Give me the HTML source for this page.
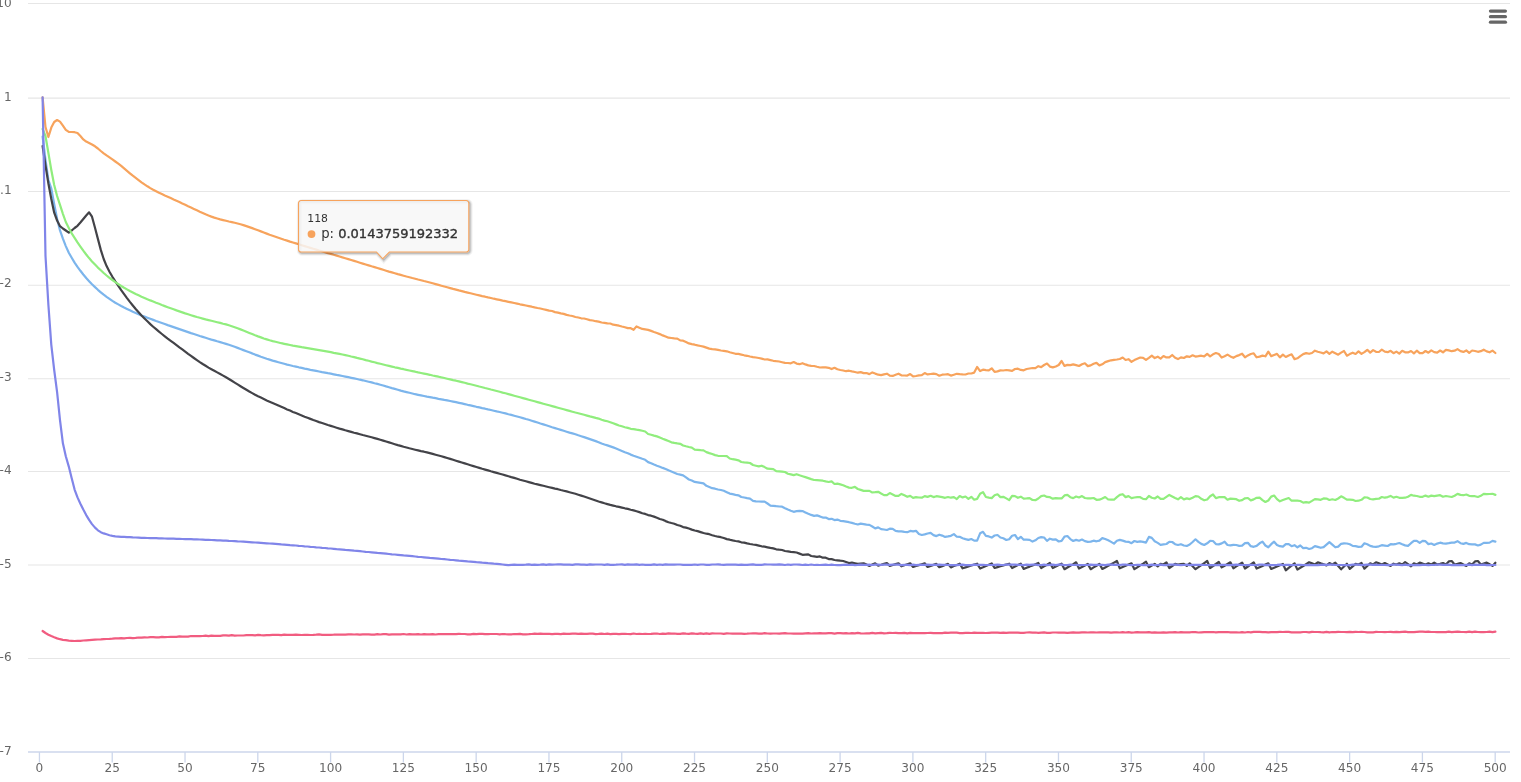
<!DOCTYPE html>
<html lang="en"><head><meta charset="utf-8"><title>Chart</title>
<style>
html,body{margin:0;padding:0;background:#fff;overflow:hidden}
body{width:1521px;height:782px;font-family:"DejaVu Sans", "Liberation Sans", sans-serif}
svg{display:block;position:absolute;left:0;top:0}
.g line{stroke:#e6e6e6;stroke-width:1.1}
.ax line{stroke:#ccd6eb;stroke-width:1.3}
.yl text,.xl text{font-family:"DejaVu Sans", "Liberation Sans", sans-serif;font-size:12.1px;fill:#666}
.yl text{text-anchor:end}.xl text{text-anchor:middle}
.s path{fill:none;stroke-width:2.2;stroke-linejoin:round;stroke-linecap:round}
.th{font-family:"DejaVu Sans", "Liberation Sans", sans-serif;font-size:10.8px;fill:#333}
.tb{font-family:"DejaVu Sans", "Liberation Sans", sans-serif;font-size:13.2px;fill:#333}
.tv{font-size:13px;stroke:#333;stroke-width:0.38px;stroke-linejoin:round}
</style></head><body>
<svg width="1521" height="782" viewBox="0 0 1521 782">
<rect width="1521" height="782" fill="#fff"/>
<g class="g">
<line x1="28.0" y1="3.47" x2="1510.0" y2="3.47"/>
<line x1="28.0" y1="98.1" x2="1510.0" y2="98.1"/>
<line x1="28.0" y1="191.5" x2="1510.0" y2="191.5"/>
<line x1="28.0" y1="285.2" x2="1510.0" y2="285.2"/>
<line x1="28.0" y1="378.7" x2="1510.0" y2="378.7"/>
<line x1="28.0" y1="471.5" x2="1510.0" y2="471.5"/>
<line x1="28.0" y1="565.0" x2="1510.0" y2="565.0"/>
<line x1="28.0" y1="658.5" x2="1510.0" y2="658.5"/>
</g>
<g class="ax">
<line x1="28.0" y1="752.0" x2="1510.0" y2="752.0"/>
<line x1="39.44" y1="752.0" x2="39.44" y2="762.5"/>
<line x1="112.23" y1="752.0" x2="112.23" y2="762.5"/>
<line x1="185.02" y1="752.0" x2="185.02" y2="762.5"/>
<line x1="257.80" y1="752.0" x2="257.80" y2="762.5"/>
<line x1="330.59" y1="752.0" x2="330.59" y2="762.5"/>
<line x1="403.38" y1="752.0" x2="403.38" y2="762.5"/>
<line x1="476.17" y1="752.0" x2="476.17" y2="762.5"/>
<line x1="548.95" y1="752.0" x2="548.95" y2="762.5"/>
<line x1="621.74" y1="752.0" x2="621.74" y2="762.5"/>
<line x1="694.53" y1="752.0" x2="694.53" y2="762.5"/>
<line x1="767.32" y1="752.0" x2="767.32" y2="762.5"/>
<line x1="840.10" y1="752.0" x2="840.10" y2="762.5"/>
<line x1="912.89" y1="752.0" x2="912.89" y2="762.5"/>
<line x1="985.68" y1="752.0" x2="985.68" y2="762.5"/>
<line x1="1058.47" y1="752.0" x2="1058.47" y2="762.5"/>
<line x1="1131.25" y1="752.0" x2="1131.25" y2="762.5"/>
<line x1="1204.04" y1="752.0" x2="1204.04" y2="762.5"/>
<line x1="1276.83" y1="752.0" x2="1276.83" y2="762.5"/>
<line x1="1349.62" y1="752.0" x2="1349.62" y2="762.5"/>
<line x1="1422.40" y1="752.0" x2="1422.40" y2="762.5"/>
<line x1="1495.19" y1="752.0" x2="1495.19" y2="762.5"/>
</g>
<g class="yl">
<text x="11.6" y="7">10</text>
<text x="11.6" y="101">1</text>
<text x="11.6" y="194">0.1</text>
<text x="11.6" y="287">1e-2</text>
<text x="11.6" y="381">1e-3</text>
<text x="11.6" y="474">1e-4</text>
<text x="11.6" y="568">1e-5</text>
<text x="11.6" y="661">1e-6</text>
<text x="11.6" y="755">1e-7</text>
</g>
<g class="xl">
<text x="39.44" y="772">0</text>
<text x="112.23" y="772">25</text>
<text x="185.02" y="772">50</text>
<text x="257.80" y="772">75</text>
<text x="330.59" y="772">100</text>
<text x="403.38" y="772">125</text>
<text x="476.17" y="772">150</text>
<text x="548.95" y="772">175</text>
<text x="621.74" y="772">200</text>
<text x="694.53" y="772">225</text>
<text x="767.32" y="772">250</text>
<text x="840.10" y="772">275</text>
<text x="912.89" y="772">300</text>
<text x="985.68" y="772">325</text>
<text x="1058.47" y="772">350</text>
<text x="1131.25" y="772">375</text>
<text x="1204.04" y="772">400</text>
<text x="1276.83" y="772">425</text>
<text x="1349.62" y="772">450</text>
<text x="1422.40" y="772">475</text>
<text x="1495.19" y="772">500</text>
</g>
<g class="s">
<path stroke="#7cb5ec" d="M42.6 136.5L45.5 160.0L48.4 180.0L51.3 188.4L54.2 204.3L57.1 218.7L60.0 230.4L62.9 238.7L65.8 246.1L68.8 252.8L71.7 257.7L74.6 262.6L77.5 266.9L80.4 270.8L83.3 274.5L86.2 278.0L89.1 281.2L92.0 284.3L95.0 287.1L97.9 289.8L100.8 292.3L103.7 294.7L106.6 296.9L109.5 298.9L112.4 300.9L115.3 302.7L118.3 304.4L121.2 306.0L124.1 307.5L127.0 308.9L129.9 310.3L132.8 311.7L135.7 312.9L138.6 314.2L141.5 315.4L144.5 316.6L147.4 317.7L150.3 318.8L153.2 319.9L156.1 321.0L159.0 322.0L161.9 323.0L164.8 324.0L167.7 325.1L170.7 326.1L173.6 327.1L176.5 328.1L179.4 329.1L182.3 330.1L185.2 331.1L188.1 332.1L191.0 333.1L193.9 334.0L196.9 335.0L199.8 336.0L202.7 336.9L205.6 337.8L208.5 338.7L211.4 339.6L214.3 340.4L217.2 341.3L220.2 342.1L223.1 343.0L226.0 343.9L228.9 344.8L231.8 345.8L234.7 346.8L237.6 347.9L240.5 349.0L243.4 350.1L246.4 351.2L249.3 352.3L252.2 353.4L255.1 354.6L258.0 355.6L260.9 356.7L263.8 357.7L266.7 358.7L269.6 359.6L272.6 360.6L275.5 361.4L278.4 362.2L281.3 363.0L284.2 363.8L287.1 364.6L290.0 365.3L292.9 366.0L295.9 366.6L298.8 367.3L301.7 367.9L304.6 368.6L307.5 369.2L310.4 369.8L313.3 370.3L316.2 370.9L319.1 371.5L322.1 372.1L325.0 372.6L327.9 373.2L330.8 373.7L333.7 374.3L336.6 374.9L339.5 375.4L342.4 376.0L345.3 376.6L348.3 377.2L351.2 377.8L354.1 378.4L357.0 379.0L359.9 379.7L362.8 380.3L365.7 381.0L368.6 381.7L371.6 382.4L374.5 383.2L377.4 383.9L380.3 384.7L383.2 385.5L386.1 386.4L389.0 387.2L391.9 388.1L394.8 388.9L397.8 389.7L400.7 390.6L403.6 391.4L406.5 392.1L409.4 392.8L412.3 393.5L415.2 394.2L418.1 394.8L421.0 395.4L424.0 396.0L426.9 396.6L429.8 397.1L432.7 397.7L435.6 398.2L438.5 398.8L441.4 399.3L444.3 399.9L447.2 400.4L450.2 401.0L453.1 401.6L456.0 402.2L458.9 402.8L461.8 403.4L464.7 404.1L467.6 404.8L470.5 405.4L473.5 406.1L476.4 406.8L479.3 407.4L482.2 408.1L485.1 408.7L488.0 409.4L490.9 410.0L493.8 410.7L496.7 411.4L499.7 412.0L502.6 412.7L505.5 413.4L508.4 414.2L511.3 414.9L514.2 415.7L517.1 416.5L520.0 417.3L522.9 418.1L525.9 419.0L528.8 419.8L531.7 420.7L534.6 421.6L537.5 422.5L540.4 423.5L543.3 424.4L546.2 425.3L549.2 426.2L552.1 427.2L555.0 428.1L557.9 429.0L560.8 429.9L563.7 430.8L566.6 431.7L569.5 432.6L572.4 433.4L575.4 434.3L578.3 435.3L581.2 436.2L584.1 437.1L587.0 438.1L589.9 439.1L592.8 440.1L595.7 441.1L598.6 442.2L601.6 443.5L604.5 444.5L607.4 445.4L610.3 446.4L613.2 447.4L616.1 448.5L619.0 449.7L621.9 450.9L624.9 452.2L627.8 453.2L630.7 454.6L633.6 455.7L636.5 456.7L639.4 457.7L642.3 458.8L645.2 459.8L648.1 462.1L651.1 463.2L654.0 464.5L656.9 465.7L659.8 466.7L662.7 467.9L665.6 469.0L668.5 470.3L671.4 471.5L674.3 472.7L677.3 474.0L680.2 474.6L683.1 475.4L686.0 477.4L688.9 479.5L691.8 480.5L694.7 481.9L697.6 482.3L700.6 482.8L703.5 483.3L706.4 485.8L709.3 487.0L712.2 488.2L715.1 488.7L718.0 489.5L720.9 490.0L723.8 490.8L726.8 492.2L729.7 493.6L732.6 494.2L735.5 494.8L738.4 495.3L741.3 497.0L744.2 497.5L747.1 498.1L750.0 498.6L753.0 500.8L755.9 501.3L758.8 501.5L761.7 501.6L764.6 501.6L767.5 503.5L770.4 505.6L773.3 505.8L776.2 506.2L779.2 506.5L782.1 506.7L785.0 508.2L787.9 509.5L790.8 510.7L793.7 511.8L796.6 511.2L799.5 510.8L802.5 511.1L805.4 512.4L808.3 513.7L811.2 514.9L814.1 515.9L817.0 515.4L819.9 516.4L822.8 517.6L825.7 517.6L828.7 519.1L831.6 518.8L834.5 520.1L837.4 519.6L840.3 520.8L843.2 521.2L846.1 521.7L849.0 522.2L851.9 522.9L854.9 523.8L857.8 524.5L860.7 523.6L863.6 524.1L866.5 524.7L869.4 524.9L872.3 526.5L875.2 528.4L878.2 527.4L881.1 529.1L884.0 529.5L886.9 530.0L889.8 528.7L892.7 528.9L895.6 530.9L898.5 531.3L901.4 531.3L904.4 531.8L907.3 532.2L910.2 530.9L913.1 531.4L916.0 530.8L918.9 534.0L921.8 535.0L924.7 534.4L927.6 533.5L930.6 532.9L933.5 535.1L936.4 536.1L939.3 534.7L942.2 535.6L945.1 536.9L948.0 536.4L950.9 535.8L953.9 534.1L956.8 536.7L959.7 536.8L962.6 538.2L965.5 539.1L968.4 539.9L971.3 539.0L974.2 540.6L977.1 540.6L980.1 533.3L983.0 531.8L985.9 535.9L988.8 536.4L991.7 537.6L994.6 535.5L997.5 535.0L1000.4 537.5L1003.3 538.3L1006.3 540.0L1009.2 539.2L1012.1 535.7L1015.0 535.0L1017.9 539.1L1020.8 536.8L1023.7 539.7L1026.6 539.7L1029.6 539.9L1032.5 541.6L1035.4 540.3L1038.3 538.0L1041.2 537.1L1044.1 537.5L1047.0 540.9L1049.9 538.7L1052.8 539.6L1055.8 539.3L1058.7 541.5L1061.6 540.9L1064.5 536.6L1067.4 536.0L1070.3 539.1L1073.2 541.0L1076.1 539.9L1079.0 540.7L1082.0 539.5L1084.9 541.1L1087.8 541.9L1090.7 541.6L1093.6 540.7L1096.5 541.3L1099.4 540.6L1102.3 538.1L1105.2 539.0L1108.2 540.3L1111.1 541.9L1114.0 543.6L1116.9 540.8L1119.8 539.9L1122.7 540.6L1125.6 541.6L1128.5 541.8L1131.5 543.2L1134.4 541.0L1137.3 541.9L1140.2 541.4L1143.1 541.9L1146.0 542.6L1148.9 536.9L1151.8 537.9L1154.7 541.3L1157.7 542.9L1160.6 544.8L1163.5 544.4L1166.4 544.0L1169.3 541.9L1172.2 542.0L1175.1 544.2L1178.0 545.0L1180.9 544.2L1183.9 545.5L1186.8 545.9L1189.7 544.5L1192.6 542.0L1195.5 539.3L1198.4 541.9L1201.3 543.9L1204.2 545.0L1207.2 543.3L1210.1 540.9L1213.0 541.0L1215.9 544.1L1218.8 544.4L1221.7 543.4L1224.6 541.7L1227.5 545.0L1230.4 545.4L1233.4 544.9L1236.3 545.0L1239.2 545.9L1242.1 545.6L1245.0 543.1L1247.9 542.8L1250.8 546.2L1253.7 546.8L1256.6 545.9L1259.6 543.3L1262.5 541.6L1265.4 545.5L1268.3 547.3L1271.2 544.2L1274.1 541.7L1277.0 545.0L1279.9 546.2L1282.9 546.7L1285.8 544.2L1288.7 544.1L1291.6 546.2L1294.5 545.2L1297.4 547.3L1300.3 545.5L1303.2 548.1L1306.1 547.8L1309.1 549.0L1312.0 548.2L1314.9 546.1L1317.8 546.9L1320.7 547.8L1323.6 547.1L1326.5 544.6L1329.4 542.1L1332.3 544.6L1335.3 547.3L1338.2 546.6L1341.1 543.8L1344.0 543.4L1346.9 543.5L1349.8 544.2L1352.7 545.9L1355.6 546.1L1358.5 546.9L1361.5 546.7L1364.4 543.3L1367.3 544.2L1370.2 545.9L1373.1 546.6L1376.0 546.9L1378.9 546.3L1381.8 545.2L1384.8 545.6L1387.7 546.0L1390.6 544.2L1393.5 544.4L1396.4 543.8L1399.3 543.0L1402.2 544.3L1405.1 545.4L1408.0 545.9L1411.0 543.2L1413.9 540.8L1416.8 540.9L1419.7 542.9L1422.6 540.9L1425.5 541.2L1428.4 544.1L1431.3 543.5L1434.2 544.9L1437.2 543.6L1440.1 542.7L1443.0 543.3L1445.9 543.6L1448.8 543.2L1451.7 542.7L1454.6 542.6L1457.5 541.2L1460.5 543.2L1463.4 543.9L1466.3 542.9L1469.2 544.2L1472.1 544.3L1475.0 544.4L1477.9 545.5L1480.8 544.6L1483.7 542.9L1486.7 542.9L1489.6 542.6L1492.5 540.9L1495.4 541.6"/>
<path stroke="#434348" d="M42.6 146.0L45.5 165.5L48.4 183.5L51.3 199.0L54.2 212.7L57.1 220.5L60.0 226.2L62.9 228.5L65.8 230.5L68.8 232.6L71.7 230.5L74.6 228.0L77.5 225.8L80.4 222.5L83.3 219.0L86.2 215.5L89.1 212.3L92.0 216.7L95.0 227.8L97.9 238.9L100.8 249.9L103.7 259.0L106.6 266.1L109.5 271.8L112.4 276.8L115.3 281.4L118.3 285.8L121.2 290.1L124.1 294.1L127.0 298.1L129.9 301.9L132.8 305.5L135.7 309.0L138.6 312.3L141.5 315.5L144.5 318.5L147.4 321.3L150.3 324.1L153.2 326.7L156.1 329.2L159.0 331.7L161.9 334.0L164.8 336.3L167.7 338.6L170.7 340.8L173.6 342.9L176.5 345.1L179.4 347.3L182.3 349.4L185.2 351.6L188.1 353.8L191.0 355.9L193.9 358.0L196.9 360.1L199.8 362.1L202.7 364.0L205.6 365.8L208.5 367.6L211.4 369.2L214.3 370.8L217.2 372.4L220.2 374.0L223.1 375.6L226.0 377.3L228.9 379.0L231.8 380.8L234.7 382.6L237.6 384.4L240.5 386.2L243.4 388.0L246.4 389.8L249.3 391.5L252.2 393.1L255.1 394.7L258.0 396.2L260.9 397.6L263.8 399.0L266.7 400.4L269.6 401.7L272.6 403.0L275.5 404.2L278.4 405.5L281.3 406.8L284.2 408.1L287.1 409.4L290.0 410.6L292.9 411.9L295.9 413.1L298.8 414.3L301.7 415.5L304.6 416.7L307.5 417.8L310.4 418.9L313.3 420.0L316.2 421.0L319.1 422.1L322.1 423.0L325.0 424.0L327.9 425.0L330.8 425.9L333.7 426.8L336.6 427.7L339.5 428.6L342.4 429.4L345.3 430.3L348.3 431.1L351.2 431.9L354.1 432.7L357.0 433.4L359.9 434.2L362.8 435.0L365.7 435.7L368.6 436.5L371.6 437.3L374.5 438.1L377.4 438.9L380.3 439.7L383.2 440.6L386.1 441.5L389.0 442.4L391.9 443.3L394.8 444.2L397.8 445.1L400.7 445.9L403.6 446.8L406.5 447.5L409.4 448.3L412.3 449.0L415.2 449.7L418.1 450.4L421.0 451.1L424.0 451.7L426.9 452.4L429.8 453.1L432.7 453.9L435.6 454.7L438.5 455.5L441.4 456.3L444.3 457.1L447.2 458.0L450.2 458.9L453.1 459.8L456.0 460.7L458.9 461.6L461.8 462.5L464.7 463.4L467.6 464.3L470.5 465.2L473.5 466.1L476.4 467.0L479.3 467.9L482.2 468.8L485.1 469.6L488.0 470.4L490.9 471.3L493.8 472.1L496.7 472.9L499.7 473.7L502.6 474.5L505.5 475.4L508.4 476.2L511.3 477.1L514.2 477.9L517.1 478.8L520.0 479.7L522.9 480.5L525.9 481.3L528.8 482.1L531.7 482.9L534.6 483.7L537.5 484.4L540.4 485.1L543.3 485.8L546.2 486.5L549.2 487.2L552.1 487.9L555.0 488.6L557.9 489.2L560.8 490.0L563.7 490.7L566.6 491.4L569.5 492.2L572.4 493.0L575.4 493.8L578.3 494.7L581.2 495.6L584.1 496.5L587.0 497.5L589.9 498.5L592.8 499.5L595.7 500.5L598.6 501.5L601.6 502.4L604.5 503.3L607.4 504.1L610.3 504.9L613.2 505.6L616.1 506.3L619.0 506.9L621.9 507.6L624.9 508.3L627.8 508.9L630.7 509.7L633.6 510.4L636.5 511.2L639.4 512.1L642.3 513.2L645.2 513.9L648.1 515.1L651.1 515.7L654.0 516.6L656.9 517.7L659.8 519.0L662.7 519.7L665.6 521.1L668.5 522.2L671.4 523.0L674.3 523.7L677.3 525.0L680.2 525.8L683.1 527.1L686.0 527.6L688.9 528.5L691.8 529.6L694.7 530.5L697.6 531.1L700.6 532.1L703.5 533.0L706.4 533.7L709.3 534.2L712.2 535.2L715.1 536.0L718.0 536.7L720.9 537.2L723.8 538.0L726.8 539.1L729.7 539.7L732.6 540.4L735.5 541.0L738.4 541.4L741.3 542.3L744.2 542.6L747.1 543.4L750.0 544.0L753.0 544.5L755.9 544.9L758.8 545.6L761.7 546.3L764.6 546.7L767.5 547.3L770.4 547.9L773.3 548.4L776.2 549.3L779.2 549.7L782.1 550.0L785.0 551.0L787.9 551.4L790.8 551.8L793.7 552.1L796.6 552.5L799.5 553.6L802.5 554.8L805.4 554.6L808.3 554.4L811.2 556.0L814.1 556.4L817.0 556.8L819.9 556.4L822.8 557.7L825.7 557.7L828.7 559.1L831.6 559.1L834.5 560.0L837.4 560.3L840.3 560.7L843.2 561.0L846.1 562.0L849.0 563.0L851.9 562.7L854.9 563.3L857.8 563.9L860.7 563.6L863.6 563.3L866.5 564.6L869.4 565.9L872.3 564.6L875.2 563.3L878.2 565.6L881.1 564.8L884.0 563.9L886.9 563.0L889.8 565.9L892.7 565.0L895.6 564.1L898.5 563.3L901.4 566.3L904.4 565.3L907.3 564.3L910.2 563.3L913.1 567.0L916.0 566.0L918.9 565.1L921.8 564.2L924.7 563.3L927.6 567.0L930.6 565.9L933.5 564.9L936.4 563.9L939.3 567.2L942.2 566.1L945.1 565.0L948.0 563.9L950.9 567.4L953.9 566.1L956.8 564.9L959.7 563.7L962.6 568.3L965.5 567.4L968.4 566.4L971.3 565.5L974.2 564.6L977.1 563.7L980.1 568.5L983.0 567.3L985.9 566.0L988.8 564.7L991.7 563.4L994.6 568.0L997.5 567.1L1000.4 566.3L1003.3 565.4L1006.3 564.5L1009.2 563.7L1012.1 568.0L1015.0 566.6L1017.9 565.1L1020.8 563.7L1023.7 568.9L1026.6 567.7L1029.6 566.6L1032.5 565.4L1035.4 564.2L1038.3 563.0L1041.2 568.0L1044.1 566.3L1047.0 564.7L1049.9 563.0L1052.8 568.0L1055.8 566.6L1058.7 565.1L1061.6 563.7L1064.5 569.2L1067.4 567.5L1070.3 565.8L1073.2 564.1L1076.1 562.3L1079.0 568.5L1082.0 567.0L1084.9 565.5L1087.8 563.9L1090.7 569.2L1093.6 567.4L1096.5 565.7L1099.4 563.9L1102.3 568.9L1105.2 567.4L1108.2 565.8L1111.1 564.2L1114.0 562.6L1116.9 561.0L1119.8 568.3L1122.7 567.0L1125.6 565.8L1128.5 564.5L1131.5 563.3L1134.4 569.2L1137.3 567.3L1140.2 565.4L1143.1 563.6L1146.0 561.7L1148.9 567.2L1151.8 565.6L1154.7 563.9L1157.7 566.3L1160.6 563.9L1163.5 564.5L1166.4 562.3L1169.3 568.0L1172.2 566.0L1175.1 563.9L1178.0 564.5L1180.9 564.2L1183.9 563.9L1186.8 565.9L1189.7 563.3L1192.6 566.2L1195.5 569.2L1198.4 567.2L1201.3 565.1L1204.2 563.1L1207.2 561.0L1210.1 568.0L1213.0 566.0L1215.9 564.0L1218.8 561.9L1221.7 567.4L1224.6 565.7L1227.5 564.0L1230.4 562.3L1233.4 568.3L1236.3 566.4L1239.2 564.5L1242.1 562.6L1245.0 568.5L1247.9 566.5L1250.8 564.4L1253.7 562.3L1256.6 568.5L1259.6 567.2L1262.5 565.9L1265.4 564.6L1268.3 563.3L1271.2 568.9L1274.1 567.7L1277.0 566.4L1279.9 565.2L1282.9 563.9L1285.8 570.3L1288.7 567.9L1291.6 565.6L1294.5 563.3L1297.4 569.6L1300.3 567.8L1303.2 566.0L1306.1 564.2L1309.1 562.3L1312.0 563.4L1314.9 564.5L1317.8 562.3L1320.7 563.4L1323.6 564.4L1326.5 565.4L1329.4 563.0L1332.3 564.5L1335.3 562.6L1338.2 566.0L1341.1 569.3L1344.0 566.5L1346.9 563.7L1349.8 568.9L1352.7 566.4L1355.6 563.9L1358.5 564.5L1361.5 563.0L1364.4 568.7L1367.3 566.0L1370.2 563.3L1373.1 564.5L1376.0 562.3L1378.9 563.4L1381.8 564.5L1384.8 563.0L1387.7 564.5L1390.6 566.0L1393.5 563.7L1396.4 564.5L1399.3 563.3L1402.2 564.5L1405.1 562.1L1408.0 564.2L1411.0 566.3L1413.9 563.4L1416.8 564.5L1419.7 562.6L1422.6 563.6L1425.5 564.5L1428.4 563.3L1431.3 564.5L1434.2 562.6L1437.2 564.5L1440.1 563.8L1443.0 563.0L1445.9 564.5L1448.8 561.4L1451.7 561.0L1454.6 564.5L1457.5 563.8L1460.5 563.0L1463.4 564.5L1466.3 565.9L1469.2 563.4L1472.1 564.5L1475.0 561.4L1477.9 561.0L1480.8 564.5L1483.7 563.6L1486.7 562.6L1489.6 564.3L1492.5 565.9L1495.4 562.7"/>
<path stroke="#90ed7d" d="M42.6 129.0L45.5 136.0L48.4 153.0L51.3 170.0L54.2 185.0L57.1 196.0L60.0 204.9L62.9 213.8L65.8 222.0L68.8 227.9L71.7 233.4L74.6 237.9L77.5 242.4L80.4 246.6L83.3 250.7L86.2 254.5L89.1 258.1L92.0 261.4L95.0 264.6L97.9 267.6L100.8 270.3L103.7 273.0L106.6 275.5L109.5 277.8L112.4 280.0L115.3 282.1L118.3 284.1L121.2 286.0L124.1 287.8L127.0 289.4L129.9 291.0L132.8 292.5L135.7 294.0L138.6 295.3L141.5 296.7L144.5 297.9L147.4 299.2L150.3 300.4L153.2 301.5L156.1 302.7L159.0 303.8L161.9 305.0L164.8 306.1L167.7 307.2L170.7 308.3L173.6 309.3L176.5 310.4L179.4 311.4L182.3 312.4L185.2 313.4L188.1 314.3L191.0 315.2L193.9 316.1L196.9 317.0L199.8 317.8L202.7 318.6L205.6 319.4L208.5 320.1L211.4 320.8L214.3 321.5L217.2 322.2L220.2 322.9L223.1 323.7L226.0 324.4L228.9 325.3L231.8 326.2L234.7 327.2L237.6 328.3L240.5 329.4L243.4 330.5L246.4 331.7L249.3 332.9L252.2 334.1L255.1 335.3L258.0 336.4L260.9 337.4L263.8 338.5L266.7 339.4L269.6 340.3L272.6 341.1L275.5 341.8L278.4 342.5L281.3 343.2L284.2 343.8L287.1 344.4L290.0 345.0L292.9 345.6L295.9 346.1L298.8 346.6L301.7 347.2L304.6 347.7L307.5 348.2L310.4 348.7L313.3 349.2L316.2 349.7L319.1 350.2L322.1 350.7L325.0 351.2L327.9 351.7L330.8 352.2L333.7 352.8L336.6 353.3L339.5 353.9L342.4 354.5L345.3 355.1L348.3 355.8L351.2 356.5L354.1 357.1L357.0 357.9L359.9 358.6L362.8 359.3L365.7 360.1L368.6 360.8L371.6 361.6L374.5 362.3L377.4 363.1L380.3 363.8L383.2 364.5L386.1 365.2L389.0 365.9L391.9 366.6L394.8 367.3L397.8 367.9L400.7 368.6L403.6 369.2L406.5 369.9L409.4 370.5L412.3 371.1L415.2 371.7L418.1 372.4L421.0 373.0L424.0 373.6L426.9 374.2L429.8 374.8L432.7 375.5L435.6 376.1L438.5 376.7L441.4 377.4L444.3 378.0L447.2 378.7L450.2 379.4L453.1 380.1L456.0 380.7L458.9 381.4L461.8 382.1L464.7 382.8L467.6 383.6L470.5 384.3L473.5 385.0L476.4 385.7L479.3 386.5L482.2 387.2L485.1 388.0L488.0 388.7L490.9 389.5L493.8 390.2L496.7 391.0L499.7 391.8L502.6 392.6L505.5 393.3L508.4 394.1L511.3 394.9L514.2 395.7L517.1 396.5L520.0 397.3L522.9 398.1L525.9 398.9L528.8 399.7L531.7 400.5L534.6 401.3L537.5 402.1L540.4 402.9L543.3 403.7L546.2 404.5L549.2 405.3L552.1 406.1L555.0 406.9L557.9 407.7L560.8 408.5L563.7 409.3L566.6 410.1L569.5 410.9L572.4 411.7L575.4 412.5L578.3 413.2L581.2 414.0L584.1 414.8L587.0 415.6L589.9 416.4L592.8 417.1L595.7 417.9L598.6 418.6L601.6 419.8L604.5 420.6L607.4 421.3L610.3 422.2L613.2 423.3L616.1 424.4L619.0 425.5L621.9 426.3L624.9 427.2L627.8 427.9L630.7 428.8L633.6 429.2L636.5 429.7L639.4 430.1L642.3 430.8L645.2 431.5L648.1 434.0L651.1 434.7L654.0 435.6L656.9 436.4L659.8 437.5L662.7 438.8L665.6 439.9L668.5 441.0L671.4 442.3L674.3 442.9L677.3 443.4L680.2 443.8L683.1 445.5L686.0 446.3L688.9 447.0L691.8 447.6L694.7 449.6L697.6 449.8L700.6 450.2L703.5 450.4L706.4 452.1L709.3 453.1L712.2 454.0L715.1 455.1L718.0 455.8L720.9 456.0L723.8 456.0L726.8 456.2L729.7 458.5L732.6 459.2L735.5 459.7L738.4 460.3L741.3 462.0L744.2 462.4L747.1 462.6L750.0 463.0L753.0 465.0L755.9 465.7L758.8 466.4L761.7 465.7L764.6 467.1L767.5 468.7L770.4 468.9L773.3 469.2L776.2 471.1L779.2 471.3L782.1 471.6L785.0 472.0L787.9 473.7L790.8 474.4L793.7 475.1L796.6 474.2L799.5 475.3L802.5 476.2L805.4 477.1L808.3 478.1L811.2 479.1L814.1 480.0L817.0 480.2L819.9 480.4L822.8 480.7L825.7 481.4L828.7 482.0L831.6 481.4L834.5 484.0L837.4 483.6L840.3 484.4L843.2 485.2L846.1 486.5L849.0 487.6L851.9 487.8L854.9 486.9L857.8 489.0L860.7 489.9L863.6 490.9L866.5 490.9L869.4 490.9L872.3 492.5L875.2 492.2L878.2 491.8L881.1 493.5L884.0 495.1L886.9 495.1L889.8 493.1L892.7 494.4L895.6 495.9L898.5 495.9L901.4 493.9L904.4 495.3L907.3 496.8L910.2 495.9L913.1 497.8L916.0 497.2L918.9 497.5L921.8 497.7L924.7 496.1L927.6 496.9L930.6 495.8L933.5 497.1L936.4 496.2L939.3 496.7L942.2 497.2L945.1 497.8L948.0 497.0L950.9 497.7L953.9 497.2L956.8 499.1L959.7 496.0L962.6 497.4L965.5 496.5L968.4 498.8L971.3 496.8L974.2 499.7L977.1 498.9L980.1 493.8L983.0 492.1L985.9 497.0L988.8 497.6L991.7 498.1L994.6 495.3L997.5 494.3L1000.4 497.1L1003.3 496.8L1006.3 498.4L1009.2 500.1L1012.1 495.9L1015.0 496.1L1017.9 497.8L1020.8 496.7L1023.7 498.6L1026.6 498.4L1029.6 498.1L1032.5 500.0L1035.4 500.2L1038.3 498.5L1041.2 496.1L1044.1 495.5L1047.0 496.9L1049.9 497.2L1052.8 498.7L1055.8 498.1L1058.7 498.3L1061.6 498.4L1064.5 495.4L1067.4 494.9L1070.3 497.2L1073.2 498.1L1076.1 496.5L1079.0 497.5L1082.0 496.1L1084.9 498.0L1087.8 498.4L1090.7 498.3L1093.6 498.0L1096.5 499.8L1099.4 499.7L1102.3 498.4L1105.2 497.0L1108.2 499.5L1111.1 499.6L1114.0 499.7L1116.9 497.1L1119.8 494.9L1122.7 494.2L1125.6 497.1L1128.5 496.1L1131.5 498.1L1134.4 497.5L1137.3 497.2L1140.2 497.2L1143.1 498.9L1146.0 499.2L1148.9 496.0L1151.8 497.8L1154.7 498.5L1157.7 496.5L1160.6 498.9L1163.5 498.9L1166.4 496.9L1169.3 494.9L1172.2 496.4L1175.1 497.9L1178.0 499.3L1180.9 497.2L1183.9 499.4L1186.8 498.4L1189.7 499.1L1192.6 497.7L1195.5 496.1L1198.4 496.5L1201.3 498.8L1204.2 500.3L1207.2 499.5L1210.1 496.2L1213.0 494.5L1215.9 498.1L1218.8 497.2L1221.7 497.0L1224.6 497.1L1227.5 499.7L1230.4 498.6L1233.4 498.9L1236.3 499.2L1239.2 500.8L1242.1 500.1L1245.0 498.3L1247.9 498.0L1250.8 500.4L1253.7 499.4L1256.6 497.8L1259.6 497.7L1262.5 500.1L1265.4 502.0L1268.3 500.5L1271.2 496.6L1274.1 495.5L1277.0 499.1L1279.9 501.3L1282.9 500.1L1285.8 499.0L1288.7 498.0L1291.6 500.7L1294.5 500.5L1297.4 500.7L1300.3 501.0L1303.2 502.6L1306.1 502.2L1309.1 502.6L1312.0 500.9L1314.9 499.1L1317.8 499.4L1320.7 499.8L1323.6 498.4L1326.5 498.6L1329.4 500.0L1332.3 499.3L1335.3 500.0L1338.2 498.5L1341.1 496.3L1344.0 497.8L1346.9 499.7L1349.8 499.7L1352.7 499.8L1355.6 501.0L1358.5 500.7L1361.5 499.8L1364.4 497.4L1367.3 497.5L1370.2 499.0L1373.1 499.4L1376.0 498.9L1378.9 498.7L1381.8 497.0L1384.8 497.7L1387.7 497.1L1390.6 495.9L1393.5 497.6L1396.4 496.8L1399.3 497.8L1402.2 497.8L1405.1 497.7L1408.0 496.8L1411.0 494.9L1413.9 495.7L1416.8 496.0L1419.7 496.8L1422.6 496.8L1425.5 495.6L1428.4 496.7L1431.3 495.6L1434.2 496.1L1437.2 495.6L1440.1 495.2L1443.0 496.7L1445.9 496.0L1448.8 496.5L1451.7 497.0L1454.6 495.7L1457.5 493.9L1460.5 494.9L1463.4 495.2L1466.3 494.5L1469.2 495.8L1472.1 496.1L1475.0 496.2L1477.9 497.0L1480.8 495.8L1483.7 493.9L1486.7 494.1L1489.6 494.0L1492.5 493.8L1495.4 494.9"/>
<path stroke="#f7a35c" d="M42.6 97.3L45.5 127.0L48.4 137.0L51.3 127.6L54.2 122.0L57.1 120.0L60.0 121.6L62.9 125.6L65.8 129.8L68.8 131.9L71.7 132.0L74.6 132.2L77.5 133.0L80.4 136.1L83.3 139.4L86.2 141.6L89.1 143.0L92.0 144.5L95.0 146.3L97.9 148.5L100.8 151.0L103.7 153.3L106.6 155.4L109.5 157.4L112.4 159.4L115.3 161.5L118.3 163.6L121.2 165.9L124.1 168.4L127.0 170.8L129.9 173.3L132.8 175.7L135.7 177.9L138.6 180.1L141.5 182.3L144.5 184.4L147.4 186.3L150.3 188.1L153.2 189.8L156.1 191.3L159.0 192.8L161.9 194.1L164.8 195.5L167.7 196.8L170.7 198.1L173.6 199.5L176.5 200.8L179.4 202.1L182.3 203.5L185.2 204.8L188.1 206.2L191.0 207.5L193.9 208.9L196.9 210.3L199.8 211.7L202.7 213.0L205.6 214.3L208.5 215.5L211.4 216.6L214.3 217.6L217.2 218.5L220.2 219.4L223.1 220.1L226.0 220.8L228.9 221.5L231.8 222.1L234.7 222.8L237.6 223.5L240.5 224.3L243.4 225.1L246.4 226.1L249.3 227.1L252.2 228.1L255.1 229.2L258.0 230.3L260.9 231.4L263.8 232.5L266.7 233.6L269.6 234.7L272.6 235.7L275.5 236.7L278.4 237.7L281.3 238.7L284.2 239.7L287.1 240.6L290.0 241.6L292.9 242.5L295.9 243.4L298.8 244.3L301.7 245.2L304.6 246.1L307.5 247.0L310.4 247.9L313.3 248.8L316.2 249.6L319.1 250.5L322.1 251.3L325.0 252.2L327.9 253.1L330.8 253.9L333.7 254.8L336.6 255.6L339.5 256.5L342.4 257.4L345.3 258.2L348.3 259.1L351.2 260.0L354.1 260.9L357.0 261.8L359.9 262.7L362.8 263.6L365.7 264.5L368.6 265.4L371.6 266.3L374.5 267.1L377.4 268.0L380.3 268.9L383.2 269.8L386.1 270.7L389.0 271.6L391.9 272.4L394.8 273.2L397.8 274.1L400.7 274.9L403.6 275.7L406.5 276.5L409.4 277.2L412.3 278.0L415.2 278.7L418.1 279.5L421.0 280.2L424.0 281.0L426.9 281.7L429.8 282.5L432.7 283.3L435.6 284.1L438.5 284.9L441.4 285.7L444.3 286.5L447.2 287.3L450.2 288.1L453.1 288.9L456.0 289.6L458.9 290.4L461.8 291.1L464.7 291.9L467.6 292.6L470.5 293.3L473.5 294.0L476.4 294.7L479.3 295.4L482.2 296.1L485.1 296.7L488.0 297.4L490.9 298.0L493.8 298.7L496.7 299.3L499.7 299.9L502.6 300.6L505.5 301.2L508.4 301.8L511.3 302.4L514.2 303.0L517.1 303.6L520.0 304.3L522.9 304.9L525.9 305.5L528.8 306.1L531.7 306.7L534.6 307.4L537.5 308.0L540.4 308.5L543.3 309.2L546.2 309.9L549.2 310.6L552.1 311.0L555.0 312.1L557.9 312.6L560.8 313.4L563.7 313.9L566.6 314.9L569.5 315.5L572.4 316.0L575.4 317.0L578.3 317.5L581.2 318.3L584.1 318.5L587.0 319.2L589.9 320.1L592.8 320.5L595.7 321.2L598.6 321.6L601.6 322.5L604.5 322.8L607.4 323.4L610.3 323.5L613.2 324.7L616.1 325.1L619.0 325.7L621.9 326.5L624.9 327.2L627.8 328.1L630.7 328.2L633.6 329.8L636.5 326.4L639.4 327.7L642.3 328.9L645.2 329.4L648.1 329.9L651.1 330.9L654.0 332.0L656.9 333.0L659.8 334.1L662.7 335.4L665.6 336.5L668.5 337.7L671.4 338.0L674.3 338.4L677.3 338.6L680.2 340.4L683.1 340.7L686.0 342.0L688.9 343.4L691.8 344.1L694.7 344.7L697.6 345.4L700.6 346.0L703.5 346.6L706.4 347.6L709.3 348.6L712.2 349.1L715.1 349.4L718.0 349.9L720.9 350.5L723.8 350.8L726.8 351.3L729.7 352.3L732.6 353.0L735.5 353.8L738.4 353.9L741.3 354.6L744.2 355.3L747.1 355.8L750.0 356.5L753.0 357.1L755.9 357.5L758.8 358.0L761.7 358.6L764.6 359.5L767.5 359.4L770.4 360.1L773.3 360.8L776.2 361.2L779.2 361.5L782.1 362.2L785.0 362.9L787.9 363.0L790.8 363.3L793.7 362.1L796.6 363.6L799.5 364.2L802.5 363.2L805.4 364.4L808.3 365.4L811.2 365.8L814.1 366.0L817.0 366.8L819.9 367.5L822.8 367.3L825.7 367.4L828.7 367.8L831.6 369.1L834.5 367.8L837.4 369.3L840.3 370.0L843.2 370.5L846.1 371.2L849.0 370.7L851.9 371.4L854.9 372.0L857.8 372.7L860.7 372.1L863.6 373.1L866.5 373.0L869.4 374.1L872.3 372.4L875.2 373.6L878.2 374.7L881.1 375.1L884.0 374.4L886.9 373.7L889.8 375.7L892.7 375.9L895.6 374.7L898.5 373.7L901.4 375.3L904.4 375.5L907.3 375.6L910.2 374.1L913.1 376.4L916.0 376.0L918.9 375.4L921.8 375.1L924.7 373.1L927.6 374.4L930.6 374.0L933.5 373.6L936.4 374.1L939.3 375.7L942.2 374.7L945.1 374.5L948.0 374.2L950.9 375.6L953.9 374.7L956.8 373.8L959.7 374.2L962.6 374.4L965.5 374.5L968.4 373.5L971.3 373.5L974.2 372.6L977.1 366.9L980.1 371.1L983.0 369.7L985.9 370.1L988.8 370.4L991.7 368.3L994.6 371.9L997.5 371.4L1000.4 370.4L1003.3 370.5L1006.3 370.0L1009.2 370.4L1012.1 370.9L1015.0 369.0L1017.9 368.7L1020.8 369.9L1023.7 370.3L1026.6 369.0L1029.6 368.5L1032.5 368.0L1035.4 368.1L1038.3 366.2L1041.2 367.1L1044.1 365.0L1047.0 363.6L1049.9 366.6L1052.8 367.4L1055.8 366.5L1058.7 365.0L1061.6 361.0L1064.5 365.9L1067.4 364.9L1070.3 365.1L1073.2 364.4L1076.1 365.1L1079.0 366.0L1082.0 364.2L1084.9 363.3L1087.8 366.1L1090.7 365.4L1093.6 363.8L1096.5 362.9L1099.4 365.4L1102.3 364.3L1105.2 362.1L1108.2 361.1L1111.1 360.3L1114.0 359.8L1116.9 359.5L1119.8 359.0L1122.7 357.5L1125.6 360.0L1128.5 359.2L1131.5 361.8L1134.4 360.1L1137.3 358.8L1140.2 357.5L1143.1 357.8L1146.0 359.9L1148.9 357.9L1151.8 355.7L1154.7 358.1L1157.7 356.7L1160.6 358.6L1163.5 356.0L1166.4 357.4L1169.3 357.3L1172.2 355.0L1175.1 357.7L1178.0 359.1L1180.9 357.4L1183.9 358.0L1186.8 356.3L1189.7 356.9L1192.6 355.3L1195.5 356.6L1198.4 356.2L1201.3 355.7L1204.2 356.4L1207.2 353.8L1210.1 356.3L1213.0 354.3L1215.9 353.0L1218.8 354.0L1221.7 357.6L1224.6 356.3L1227.5 354.6L1230.4 356.4L1233.4 357.8L1236.3 356.1L1239.2 355.1L1242.1 353.7L1245.0 357.3L1247.9 355.4L1250.8 354.0L1253.7 353.3L1256.6 357.3L1259.6 356.6L1262.5 355.6L1265.4 356.3L1268.3 351.7L1271.2 356.1L1274.1 355.0L1277.0 353.9L1279.9 357.4L1282.9 354.6L1285.8 357.0L1288.7 355.5L1291.6 354.3L1294.5 359.1L1297.4 358.3L1300.3 356.1L1303.2 354.1L1306.1 353.1L1309.1 353.8L1312.0 353.0L1314.9 350.7L1317.8 351.8L1320.7 352.5L1323.6 353.4L1326.5 351.3L1329.4 353.8L1332.3 351.7L1335.3 353.2L1338.2 354.7L1341.1 352.6L1344.0 351.0L1346.9 355.7L1349.8 354.1L1352.7 352.7L1355.6 354.0L1358.5 351.4L1361.5 353.9L1364.4 352.1L1367.3 349.8L1370.2 352.6L1373.1 350.1L1376.0 351.8L1378.9 352.0L1381.8 349.7L1384.8 351.7L1387.7 352.2L1390.6 350.8L1393.5 353.2L1396.4 351.6L1399.3 353.6L1402.2 350.8L1405.1 352.3L1408.0 352.4L1411.0 351.0L1413.9 353.4L1416.8 350.7L1419.7 353.2L1422.6 353.2L1425.5 351.0L1428.4 352.7L1431.3 350.4L1434.2 352.1L1437.2 352.6L1440.1 350.5L1443.0 352.3L1445.9 349.8L1448.8 350.4L1451.7 351.2L1454.6 350.7L1457.5 349.1L1460.5 351.1L1463.4 351.9L1466.3 350.4L1469.2 352.8L1472.1 350.5L1475.0 351.0L1477.9 351.8L1480.8 351.2L1483.7 349.7L1486.7 351.4L1489.6 352.3L1492.5 350.6L1495.4 353.0"/>
<path stroke="#8085e9" d="M42.6 97.3L45.5 256.0L48.4 305.0L51.3 344.8L54.2 370.0L57.1 392.1L60.0 420.2L62.9 443.3L65.8 456.3L68.8 466.6L71.7 478.2L74.6 489.6L77.5 497.4L80.4 503.7L83.3 509.6L86.2 515.1L89.1 519.9L92.0 524.1L95.0 527.6L97.9 530.3L100.8 532.2L103.7 533.4L106.6 534.3L109.5 535.2L112.4 535.9L115.3 536.4L118.3 536.6L121.2 536.8L124.1 536.9L127.0 537.1L129.9 537.2L132.8 537.4L135.7 537.5L138.6 537.6L141.5 537.8L144.5 537.9L147.4 538.0L150.3 538.1L153.2 538.2L156.1 538.2L159.0 538.3L161.9 538.4L164.8 538.5L167.7 538.6L170.7 538.7L173.6 538.7L176.5 538.8L179.4 538.9L182.3 539.0L185.2 539.1L188.1 539.2L191.0 539.2L193.9 539.3L196.9 539.4L199.8 539.5L202.7 539.6L205.6 539.8L208.5 539.9L211.4 540.0L214.3 540.1L217.2 540.3L220.2 540.4L223.1 540.6L226.0 540.7L228.9 540.9L231.8 541.0L234.7 541.2L237.6 541.4L240.5 541.5L243.4 541.7L246.4 541.9L249.3 542.1L252.2 542.3L255.1 542.5L258.0 542.7L260.9 542.9L263.8 543.1L266.7 543.3L269.6 543.5L272.6 543.7L275.5 543.9L278.4 544.1L281.3 544.4L284.2 544.6L287.1 544.8L290.0 545.1L292.9 545.3L295.9 545.5L298.8 545.8L301.7 546.0L304.6 546.3L307.5 546.5L310.4 546.8L313.3 547.0L316.2 547.3L319.1 547.5L322.1 547.8L325.0 548.0L327.9 548.3L330.8 548.5L333.7 548.8L336.6 549.1L339.5 549.3L342.4 549.6L345.3 549.9L348.3 550.1L351.2 550.4L354.1 550.7L357.0 550.9L359.9 551.2L362.8 551.5L365.7 551.8L368.6 552.0L371.6 552.3L374.5 552.6L377.4 552.9L380.3 553.1L383.2 553.4L386.1 553.7L389.0 554.0L391.9 554.3L394.8 554.5L397.8 554.8L400.7 555.1L403.6 555.4L406.5 555.6L409.4 555.9L412.3 556.2L415.2 556.5L418.1 556.8L421.0 557.0L424.0 557.3L426.9 557.6L429.8 557.9L432.7 558.1L435.6 558.4L438.5 558.7L441.4 559.0L444.3 559.2L447.2 559.5L450.2 559.8L453.1 560.0L456.0 560.3L458.9 560.6L461.8 560.8L464.7 561.1L467.6 561.4L470.5 561.6L473.5 561.9L476.4 562.2L479.3 562.4L482.2 562.7L485.1 562.9L488.0 563.2L490.9 563.4L493.8 563.7L496.7 563.9L499.7 564.2L502.6 564.5L505.5 564.8L508.4 565.1L511.3 564.9L514.2 564.7L517.1 564.9L520.0 564.8L522.9 564.8L525.9 564.7L528.8 564.4L531.7 564.9L534.6 564.7L537.5 564.8L540.4 564.6L543.3 564.3L546.2 564.9L549.2 564.4L552.1 564.7L555.0 564.5L557.9 564.4L560.8 564.4L563.7 564.7L566.6 564.5L569.5 564.7L572.4 564.9L575.4 564.4L578.3 564.4L581.2 564.6L584.1 564.7L587.0 564.9L589.9 564.4L592.8 564.6L595.7 564.5L598.6 564.5L601.6 564.5L604.5 564.8L607.4 564.4L610.3 564.9L613.2 564.8L616.1 564.7L619.0 564.5L621.9 564.4L624.9 564.9L627.8 564.4L630.7 564.6L633.6 564.6L636.5 564.4L639.4 564.9L642.3 564.5L645.2 564.8L648.1 564.9L651.1 564.8L654.0 564.4L656.9 564.8L659.8 564.5L662.7 564.9L665.6 564.4L668.5 564.7L671.4 564.7L674.3 564.6L677.3 564.5L680.2 564.5L683.1 564.8L686.0 564.9L688.9 564.9L691.8 564.8L694.7 564.5L697.6 564.8L700.6 564.5L703.5 564.5L706.4 564.8L709.3 564.8L712.2 564.5L715.1 564.5L718.0 564.4L720.9 564.7L723.8 564.9L726.8 564.6L729.7 564.7L732.6 564.5L735.5 564.6L738.4 564.8L741.3 564.7L744.2 564.9L747.1 564.9L750.0 564.6L753.0 564.4L755.9 564.8L758.8 564.9L761.7 564.9L764.6 564.4L767.5 564.5L770.4 564.5L773.3 564.6L776.2 564.6L779.2 564.4L782.1 564.6L785.0 565.0L787.9 564.5L790.8 564.9L793.7 564.5L796.6 564.5L799.5 564.7L802.5 565.0L805.4 564.6L808.3 565.0L811.2 564.5L814.1 565.0L817.0 564.8L819.9 565.0L822.8 564.8L825.7 564.7L828.7 565.0L831.6 564.7L834.5 565.0L837.4 565.1L840.3 565.1L843.2 564.9L846.1 564.7L849.0 565.0L851.9 564.6L854.9 565.1L857.8 564.9L860.7 564.6L863.6 564.9L866.5 564.9L869.4 564.7L872.3 565.0L875.2 564.6L878.2 564.7L881.1 564.9L884.0 564.7L886.9 564.7L889.8 564.9L892.7 564.6L895.6 564.7L898.5 564.6L901.4 565.1L904.4 564.9L907.3 564.8L910.2 565.1L913.1 564.7L916.0 565.1L918.9 564.9L921.8 564.9L924.7 564.8L927.6 564.7L930.6 564.8L933.5 564.8L936.4 564.9L939.3 564.6L942.2 564.8L945.1 564.8L948.0 565.0L950.9 565.1L953.9 565.1L956.8 565.2L959.7 564.8L962.6 564.7L965.5 565.2L968.4 565.1L971.3 565.1L974.2 564.7L977.1 564.9L980.1 564.8L983.0 564.9L985.9 565.0L988.8 565.0L991.7 565.0L994.6 564.8L997.5 564.7L1000.4 564.9L1003.3 565.0L1006.3 564.7L1009.2 564.6L1012.1 564.7L1015.0 564.7L1017.9 564.9L1020.8 564.8L1023.7 565.2L1026.6 564.7L1029.6 564.8L1032.5 564.6L1035.4 564.6L1038.3 565.1L1041.2 565.0L1044.1 564.7L1047.0 565.1L1049.9 564.8L1052.8 564.7L1055.8 565.2L1058.7 564.7L1061.6 564.7L1064.5 565.1L1067.4 565.0L1070.3 564.6L1073.2 565.0L1076.1 564.9L1079.0 565.1L1082.0 565.0L1084.9 565.0L1087.8 564.9L1090.7 564.6L1093.6 564.8L1096.5 564.8L1099.4 564.9L1102.3 564.9L1105.2 565.1L1108.2 564.7L1111.1 564.6L1114.0 564.9L1116.9 564.7L1119.8 565.0L1122.7 564.7L1125.6 564.7L1128.5 565.0L1131.5 565.1L1134.4 565.0L1137.3 564.9L1140.2 564.9L1143.1 565.2L1146.0 565.0L1148.9 565.2L1151.8 564.7L1154.7 565.1L1157.7 565.0L1160.6 564.7L1163.5 565.2L1166.4 565.2L1169.3 564.7L1172.2 564.7L1175.1 564.6L1178.0 564.9L1180.9 565.1L1183.9 565.0L1186.8 564.7L1189.7 565.2L1192.6 564.8L1195.5 564.9L1198.4 564.8L1201.3 564.9L1204.2 565.0L1207.2 565.0L1210.1 565.1L1213.0 565.2L1215.9 565.1L1218.8 565.1L1221.7 564.8L1224.6 564.8L1227.5 565.1L1230.4 565.2L1233.4 564.8L1236.3 564.7L1239.2 564.8L1242.1 565.0L1245.0 565.0L1247.9 565.1L1250.8 564.9L1253.7 565.0L1256.6 565.1L1259.6 564.7L1262.5 564.6L1265.4 565.1L1268.3 564.8L1271.2 565.2L1274.1 565.1L1277.0 564.9L1279.9 564.6L1282.9 565.1L1285.8 564.8L1288.7 564.9L1291.6 565.2L1294.5 565.0L1297.4 564.9L1300.3 564.8L1303.2 565.0L1306.1 565.2L1309.1 564.9L1312.0 565.1L1314.9 565.1L1317.8 565.2L1320.7 564.8L1323.6 564.7L1326.5 564.8L1329.4 564.6L1332.3 564.7L1335.3 565.0L1338.2 565.0L1341.1 565.0L1344.0 565.1L1346.9 565.0L1349.8 565.1L1352.7 564.6L1355.6 564.7L1358.5 564.7L1361.5 565.1L1364.4 564.8L1367.3 564.7L1370.2 564.7L1373.1 564.9L1376.0 564.7L1378.9 565.0L1381.8 564.8L1384.8 565.0L1387.7 565.1L1390.6 564.9L1393.5 564.6L1396.4 564.7L1399.3 564.8L1402.2 565.1L1405.1 564.7L1408.0 565.2L1411.0 564.9L1413.9 565.1L1416.8 564.9L1419.7 565.2L1422.6 564.9L1425.5 564.8L1428.4 565.1L1431.3 565.0L1434.2 565.0L1437.2 564.7L1440.1 564.7L1443.0 564.8L1445.9 564.9L1448.8 564.7L1451.7 565.1L1454.6 564.9L1457.5 565.1L1460.5 565.0L1463.4 565.2L1466.3 564.8L1469.2 564.7L1472.1 565.1L1475.0 564.7L1477.9 564.9L1480.8 564.9L1483.7 564.7L1486.7 565.2L1489.6 565.1L1492.5 565.0L1495.4 565.0"/>
<path stroke="#f15c80" d="M42.6 631.0L45.5 633.0L48.4 634.7L51.3 636.1L54.2 637.3L57.1 638.4L60.0 639.2L62.9 639.8L65.8 640.2L68.8 640.6L71.7 640.8L74.6 641.0L77.5 640.9L80.4 640.8L83.3 640.5L86.2 640.3L89.1 640.1L92.0 639.9L95.0 639.7L97.9 639.5L100.8 639.4L103.7 639.2L106.6 639.0L109.5 638.9L112.4 638.7L115.3 638.4L118.3 638.3L121.2 638.1L124.1 638.4L127.0 638.0L129.9 637.8L132.8 638.1L135.7 637.9L138.6 637.5L141.5 637.7L144.5 637.3L147.4 637.5L150.3 637.1L153.2 637.2L156.1 637.4L159.0 637.3L161.9 636.8L164.8 637.2L167.7 637.0L170.7 636.9L173.6 636.9L176.5 636.9L179.4 636.4L182.3 636.7L185.2 636.7L188.1 636.6L191.0 636.0L193.9 636.2L196.9 636.1L199.8 636.1L202.7 636.0L205.6 635.7L208.5 636.2L211.4 635.6L214.3 635.8L217.2 635.8L220.2 635.9L223.1 635.4L226.0 635.3L228.9 635.7L231.8 635.2L234.7 635.6L237.6 635.5L240.5 635.5L243.4 635.5L246.4 635.1L249.3 635.0L252.2 635.1L255.1 635.3L258.0 634.9L260.9 635.2L263.8 635.3L266.7 635.2L269.6 635.2L272.6 634.9L275.5 634.8L278.4 634.8L281.3 635.1L284.2 634.6L287.1 634.8L290.0 634.8L292.9 634.9L295.9 634.6L298.8 634.8L301.7 635.0L304.6 634.8L307.5 634.8L310.4 635.0L313.3 634.9L316.2 634.7L319.1 634.4L322.1 634.9L325.0 634.8L327.9 634.8L330.8 634.8L333.7 634.7L336.6 634.5L339.5 634.6L342.4 634.7L345.3 634.7L348.3 634.4L351.2 634.3L354.1 634.5L357.0 634.4L359.9 634.7L362.8 634.4L365.7 634.4L368.6 634.3L371.6 634.6L374.5 634.7L377.4 634.2L380.3 634.5L383.2 634.2L386.1 634.2L389.0 634.6L391.9 634.3L394.8 634.4L397.8 634.4L400.7 634.4L403.6 634.0L406.5 634.5L409.4 634.1L412.3 634.4L415.2 634.3L418.1 634.2L421.0 634.5L424.0 634.1L426.9 634.4L429.8 634.3L432.7 634.1L435.6 634.5L438.5 634.2L441.4 634.2L444.3 634.0L447.2 634.1L450.2 634.0L453.1 634.2L456.0 634.1L458.9 633.9L461.8 634.0L464.7 634.0L467.6 634.3L470.5 634.3L473.5 633.9L476.4 634.2L479.3 633.8L482.2 633.9L485.1 634.2L488.0 634.2L490.9 634.0L493.8 634.0L496.7 634.0L499.7 634.3L502.6 634.0L505.5 634.2L508.4 634.3L511.3 634.3L514.2 634.0L517.1 634.1L520.0 633.8L522.9 634.3L525.9 634.3L528.8 634.2L531.7 634.0L534.6 633.7L537.5 633.8L540.4 633.7L543.3 633.8L546.2 633.8L549.2 633.9L552.1 634.2L555.0 633.8L557.9 633.9L560.8 634.1L563.7 633.7L566.6 633.8L569.5 633.9L572.4 633.7L575.4 633.6L578.3 633.9L581.2 633.6L584.1 633.9L587.0 633.8L589.9 633.7L592.8 633.7L595.7 634.1L598.6 633.9L601.6 633.6L604.5 634.0L607.4 633.7L610.3 634.1L613.2 633.9L616.1 633.9L619.0 634.1L621.9 633.8L624.9 633.8L627.8 634.0L630.7 634.1L633.6 633.5L636.5 634.0L639.4 633.8L642.3 634.0L645.2 633.9L648.1 634.0L651.1 633.9L654.0 633.6L656.9 633.5L659.8 634.0L662.7 633.7L665.6 633.9L668.5 633.4L671.4 633.7L674.3 633.5L677.3 633.9L680.2 633.8L683.1 633.4L686.0 633.7L688.9 633.9L691.8 633.4L694.7 633.7L697.6 633.9L700.6 633.4L703.5 633.8L706.4 633.4L709.3 633.8L712.2 633.4L715.1 633.5L718.0 633.5L720.9 633.5L723.8 633.9L726.8 633.4L729.7 633.5L732.6 633.7L735.5 633.5L738.4 633.6L741.3 633.7L744.2 633.8L747.1 633.7L750.0 633.5L753.0 633.4L755.9 633.4L758.8 633.7L761.7 633.6L764.6 633.2L767.5 633.5L770.4 633.6L773.3 633.5L776.2 633.5L779.2 633.7L782.1 633.3L785.0 633.2L787.9 633.5L790.8 633.5L793.7 633.7L796.6 633.6L799.5 633.6L802.5 633.6L805.4 633.3L808.3 633.2L811.2 633.5L814.1 633.4L817.0 633.3L819.9 633.2L822.8 633.4L825.7 633.4L828.7 633.2L831.6 633.2L834.5 633.6L837.4 633.1L840.3 633.1L843.2 633.4L846.1 633.2L849.0 633.5L851.9 633.2L854.9 633.3L857.8 632.9L860.7 633.4L863.6 633.5L866.5 633.3L869.4 633.4L872.3 632.9L875.2 633.3L878.2 633.1L881.1 632.9L884.0 633.4L886.9 633.2L889.8 632.9L892.7 633.0L895.6 632.9L898.5 633.2L901.4 633.2L904.4 632.8L907.3 633.3L910.2 632.9L913.1 633.1L916.0 633.2L918.9 633.2L921.8 633.1L924.7 633.1L927.6 633.0L930.6 632.9L933.5 633.2L936.4 633.0L939.3 633.2L942.2 633.2L945.1 632.7L948.0 632.8L950.9 632.6L953.9 632.7L956.8 632.7L959.7 633.1L962.6 633.2L965.5 632.9L968.4 632.8L971.3 633.0L974.2 632.6L977.1 632.9L980.1 632.8L983.0 632.9L985.9 633.0L988.8 632.8L991.7 632.7L994.6 632.7L997.5 632.6L1000.4 632.9L1003.3 632.7L1006.3 632.9L1009.2 632.6L1012.1 632.6L1015.0 632.6L1017.9 632.7L1020.8 632.9L1023.7 632.8L1026.6 632.5L1029.6 632.4L1032.5 632.6L1035.4 632.5L1038.3 632.8L1041.2 632.6L1044.1 632.4L1047.0 632.9L1049.9 632.8L1052.8 632.5L1055.8 632.5L1058.7 632.7L1061.6 632.7L1064.5 632.7L1067.4 632.8L1070.3 632.6L1073.2 632.4L1076.1 632.6L1079.0 632.6L1082.0 632.3L1084.9 632.3L1087.8 632.5L1090.7 632.4L1093.6 632.4L1096.5 632.5L1099.4 632.4L1102.3 632.3L1105.2 632.4L1108.2 632.3L1111.1 632.6L1114.0 632.4L1116.9 632.4L1119.8 632.5L1122.7 632.2L1125.6 632.5L1128.5 632.2L1131.5 632.6L1134.4 632.4L1137.3 632.1L1140.2 632.4L1143.1 632.4L1146.0 632.3L1148.9 632.1L1151.8 632.6L1154.7 632.3L1157.7 632.6L1160.6 632.7L1163.5 632.3L1166.4 632.6L1169.3 632.3L1172.2 632.3L1175.1 632.1L1178.0 632.5L1180.9 632.2L1183.9 632.4L1186.8 632.4L1189.7 632.3L1192.6 632.0L1195.5 632.2L1198.4 632.5L1201.3 632.3L1204.2 632.1L1207.2 632.1L1210.1 632.2L1213.0 632.0L1215.9 632.4L1218.8 632.2L1221.7 632.1L1224.6 632.1L1227.5 632.0L1230.4 632.4L1233.4 632.4L1236.3 632.4L1239.2 632.5L1242.1 632.2L1245.0 632.5L1247.9 632.0L1250.8 632.4L1253.7 631.9L1256.6 631.9L1259.6 631.9L1262.5 632.2L1265.4 632.1L1268.3 632.3L1271.2 632.1L1274.1 632.2L1277.0 632.1L1279.9 631.9L1282.9 632.0L1285.8 631.9L1288.7 631.9L1291.6 632.3L1294.5 632.3L1297.4 632.3L1300.3 632.3L1303.2 632.0L1306.1 632.0L1309.1 632.4L1312.0 631.8L1314.9 632.0L1317.8 632.0L1320.7 632.2L1323.6 632.3L1326.5 631.9L1329.4 632.3L1332.3 632.0L1335.3 632.1L1338.2 631.8L1341.1 632.0L1344.0 632.0L1346.9 632.2L1349.8 631.9L1352.7 632.2L1355.6 631.9L1358.5 632.0L1361.5 631.9L1364.4 632.0L1367.3 632.3L1370.2 632.3L1373.1 632.3L1376.0 631.9L1378.9 632.0L1381.8 632.0L1384.8 632.1L1387.7 632.0L1390.6 631.8L1393.5 632.1L1396.4 631.8L1399.3 632.1L1402.2 631.8L1405.1 631.7L1408.0 632.1L1411.0 632.0L1413.9 632.2L1416.8 631.9L1419.7 631.7L1422.6 631.7L1425.5 631.9L1428.4 631.7L1431.3 632.0L1434.2 632.0L1437.2 632.2L1440.1 632.1L1443.0 632.0L1445.9 632.2L1448.8 631.7L1451.7 632.2L1454.6 631.9L1457.5 631.6L1460.5 631.9L1463.4 632.0L1466.3 632.1L1469.2 631.7L1472.1 632.2L1475.0 631.6L1477.9 632.0L1480.8 632.1L1483.7 632.1L1486.7 632.0L1489.6 631.6L1492.5 632.1L1495.4 631.6"/>
</g>
<g stroke="#666" stroke-width="3.3" stroke-linecap="round" fill="none">
<line x1="1490.5" y1="11.1" x2="1505.4" y2="11.1"/>
<line x1="1490.5" y1="16.65" x2="1505.4" y2="16.65"/>
<line x1="1490.5" y1="22.2" x2="1505.4" y2="22.2"/>
</g>
<g class="tt">
<path d="M301.1 200.55L466.2 200.55A2.6 2.6 0 0 1 468.8 203.15L468.8 249.4A2.6 2.6 0 0 1 466.2 252.0L389.4 252.0L382.7 258.8L376.4 252.0L301.1 252.0A2.6 2.6 0 0 1 298.5 249.4L298.5 203.15A2.6 2.6 0 0 1 301.1 200.55Z" fill="none" stroke="#000" stroke-opacity="0.05" stroke-width="5.5" transform="translate(1.1,1.1)"/>
<path d="M301.1 200.55L466.2 200.55A2.6 2.6 0 0 1 468.8 203.15L468.8 249.4A2.6 2.6 0 0 1 466.2 252.0L389.4 252.0L382.7 258.8L376.4 252.0L301.1 252.0A2.6 2.6 0 0 1 298.5 249.4L298.5 203.15A2.6 2.6 0 0 1 301.1 200.55Z" fill="none" stroke="#000" stroke-opacity="0.1" stroke-width="3.3" transform="translate(1.1,1.1)"/>
<path d="M301.1 200.55L466.2 200.55A2.6 2.6 0 0 1 468.8 203.15L468.8 249.4A2.6 2.6 0 0 1 466.2 252.0L389.4 252.0L382.7 258.8L376.4 252.0L301.1 252.0A2.6 2.6 0 0 1 298.5 249.4L298.5 203.15A2.6 2.6 0 0 1 301.1 200.55Z" fill="none" stroke="#000" stroke-opacity="0.15" stroke-width="1.1" transform="translate(1.1,1.1)"/>
<path d="M301.1 200.55L466.2 200.55A2.6 2.6 0 0 1 468.8 203.15L468.8 249.4A2.6 2.6 0 0 1 466.2 252.0L389.4 252.0L382.7 258.8L376.4 252.0L301.1 252.0A2.6 2.6 0 0 1 298.5 249.4L298.5 203.15A2.6 2.6 0 0 1 301.1 200.55Z" fill="#f7f7f7" fill-opacity="0.85" stroke="#f7a35c" stroke-width="1.1"/>
<text class="th" x="307.3" y="221.9">118</text>
<circle cx="311.5" cy="234.1" r="3.9" fill="#f7a35c"/>
<text class="tb" x="321.2" y="237.8">p: <tspan class="tv" x="338.2">0.0143759192332</tspan></text>
</g>
</svg>
</body></html>
